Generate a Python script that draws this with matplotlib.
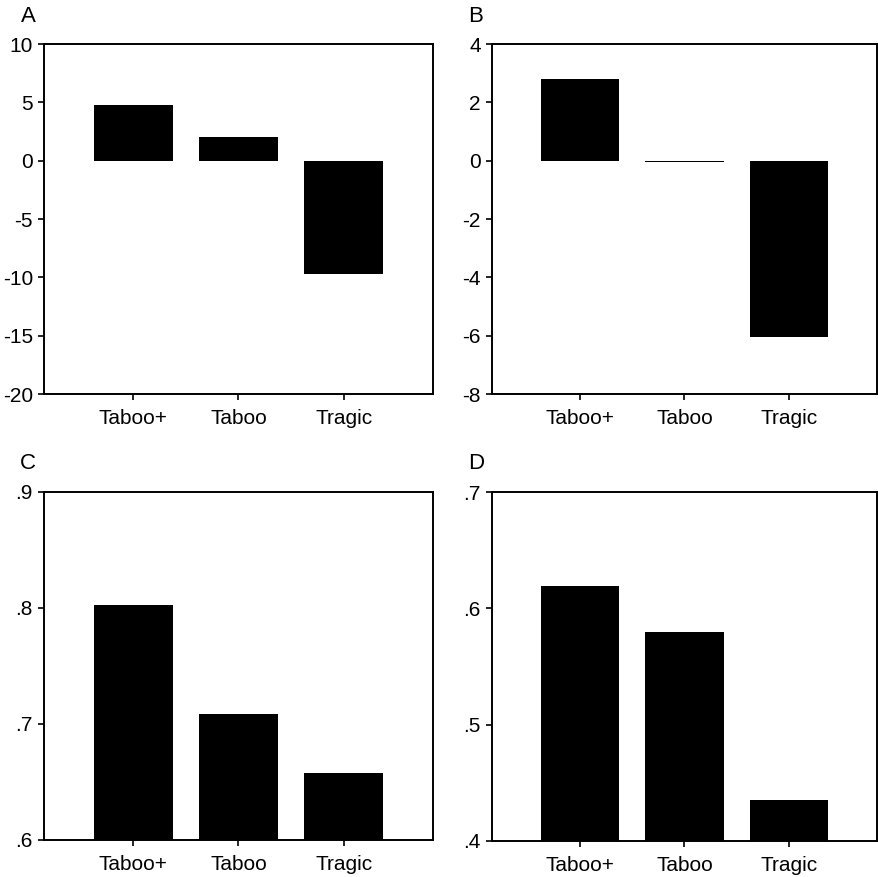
import matplotlib
matplotlib.use("Agg")
import matplotlib.pyplot as plt
from matplotlib.ticker import FuncFormatter

plt.rcParams['font.family'] = ['Liberation Sans', 'DejaVu Sans']
plt.rcParams['axes.unicode_minus'] = False

categories = ["Taboo+", "Taboo", "Tragic"]
values_a = [4.77, 2.0, -9.7]
values_b = [2.81, -0.06, -6.03]
values_c = [0.803, 0.709, 0.658]
values_d = [0.619, 0.580, 0.435]

panels = [
    ("A", values_a, (-20, 10), [-20, -15, -10, -5, 0, 5, 10], "int"),
    ("B", values_b, (-8, 4), [-8, -6, -4, -2, 0, 2, 4], "int"),
    ("C", values_c, (0.6, 0.9), [0.6, 0.7, 0.8, 0.9], "dec"),
    ("D", values_d, (0.4, 0.7), [0.4, 0.5, 0.6, 0.7], "dec"),
]

W, H = 879, 877
fig = plt.figure(figsize=(W / 100, H / 100), dpi=100)

# axes boxes in pixel coords: left, top, right, bottom
boxes = [
    (44, 44, 433, 394),
    (492, 44, 877, 394),
    (44, 492, 433, 840),
    (492, 492, 877, 841),
]
label_pos = [(28, 16), (476, 16), (28, 464), (476, 464)]

def fmt_int(v, pos):
    return f"{int(round(v))}"

def fmt_dec(v, pos):
    return f"{v:.1f}".lstrip("0")

for (name, vals, ylim, yticks, kind), (l, t, r, b), (lx, ly) in zip(panels, boxes, label_pos):
    ax = fig.add_axes([l / W, 1 - b / H, (r - l) / W, (b - t) / H])
    x = list(range(len(categories)))
    ax.bar(x, vals, width=0.75, color="black")
    ax.set_xlim(-0.845, 2.845)
    ax.set_ylim(*ylim)
    ax.set_yticks(yticks)
    ax.set_xticks(x)
    ax.set_xticklabels(categories)
    ax.yaxis.set_major_formatter(FuncFormatter(fmt_int if kind == "int" else fmt_dec))
    for s in ax.spines.values():
        s.set_linewidth(1.4)
        s.set_color("black")
    ax.tick_params(direction="out", length=4, width=1.2, labelsize=15)
    ax.tick_params(axis="x", pad=7)
    ax.tick_params(axis="y", pad=4)
    fig.text(lx / W, 1 - ly / H, name, fontsize=16, ha="center", va="center")

fig.savefig("out.png", dpi=100)
